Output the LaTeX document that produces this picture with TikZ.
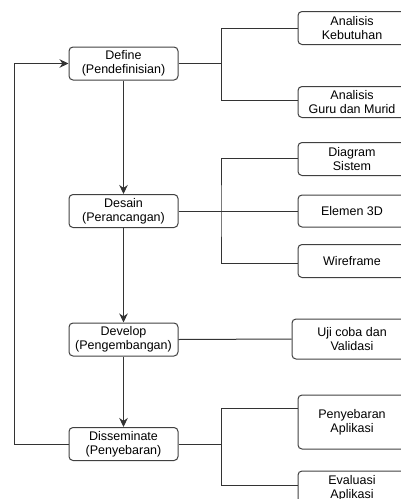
\documentclass[tikz,border=0pt]{standalone}
\usepackage{fontspec}
\setmainfont{Liberation Sans}
\usepackage{tikz}
\usetikzlibrary{arrows.meta}

\tikzset{
  stage/.style={draw=black!75, line width=1pt, rounded corners=4pt, align=center,
    minimum width=109pt, minimum height=33pt, inner sep=0pt,
    font=\fontsize{12.5}{14}\selectfont},
  item/.style={stage, minimum width=108pt},
  link/.style={line width=1pt, black!80},
  flow/.style={link, -{Stealth[length=9pt, width=8.5pt]}}
}

\begin{document}
\begin{tikzpicture}[x=1pt, y=-1pt]
			\useasboundingbox (0,0) rectangle (401,499);
			\clip (0,0) rectangle (401,499);
			% tahapan utama
			\node[stage] (def) at (123.5,63.5) {Define\\(Pendefinisian)};
			\node[stage] (des) at (123.5,211) {Desain\\(Perancangan)};
			\node[stage] (dev) at (123.5,339.5) {Develop\\(Pengembangan)};
			\node[stage] (dis) at (123.5,444) {Disseminate\\(Penyebaran)};
			% rincian tiap tahap
			\node[item] (ak) at (352,28) {Analisis\\Kebutuhan};
			\node[item, minimum height=31pt] (ag) at (352,102) {Analisis\\Guru dan Murid};
			\node[item] (ds) at (352,159) {Diagram\\Sistem};
			\node[item, minimum height=32pt] (el) at (352,211) {Elemen 3D};
			\node[item] (wf) at (352,261) {Wireframe};
			\node[item, minimum width=120pt, minimum height=40pt] (uj) at (352,339) {Uji coba dan\\Validasi};
			\node[item, minimum height=54pt] (pa) at (352,422) {Penyebaran\\Aplikasi};
			\node[item, minimum height=34pt] (ea) at (352,488) {Evaluasi\\Aplikasi};
			% alur
			\draw[flow] (def) -- (des);
			\draw[flow] (des) -- (dev);
			\draw[flow] (dev) -- (dis);
			\coordinate (back) at (14,63.5);
			\draw[flow] (dis.west) -| (back) -- (def.west);
			% cabang
			\coordinate (b1) at (221,63.5);
			\coordinate (b2) at (221,211);
			\coordinate (b4) at (221,444);
			\draw[link] (def.east) -- (b1) |- (ak.west);
			\draw[link] (b1) |- ([yshift=1.5pt]ag.west);
			\draw[link] (des.east) -- (el.west);
			\draw[link] ([yshift=1pt]ds.west) -| (b2) |- ([yshift=-2pt]wf.west);
			\draw[link] (dev.east) -- (uj.west);
			\draw[link] (dis.east) -- (b4) |- ([yshift=14pt]pa.west);
			\draw[link] (b4) |- ([yshift=3pt]ea.west);
		\end{tikzpicture}
\end{document}
